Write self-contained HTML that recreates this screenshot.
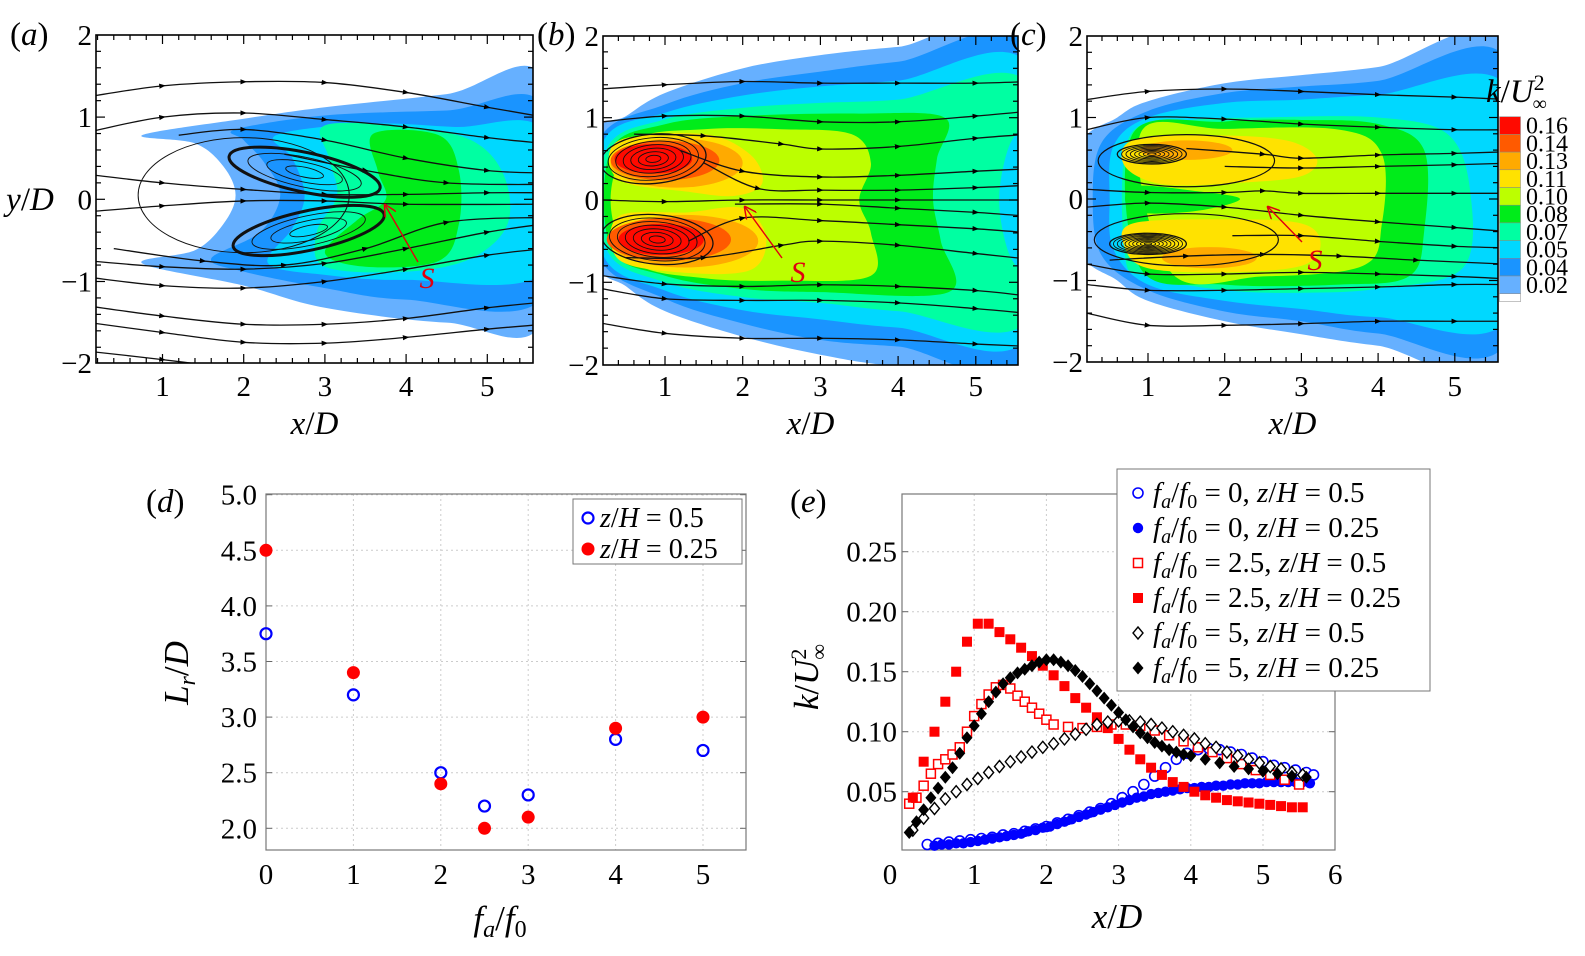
<!DOCTYPE html>
<html><head><meta charset="utf-8"><style>
html,body{margin:0;padding:0;background:#fff}
svg text{font-family:"Liberation Serif",serif}
</style></head><body>
<svg id="fig" xmlns="http://www.w3.org/2000/svg" width="1585" height="951" viewBox="0 0 1585 951" font-family="Liberation Serif, serif">
<defs>
<marker id="arr" viewBox="0 0 10 10" refX="5" refY="5" markerWidth="5" markerHeight="5" orient="auto"><path d="M0,1 L10,5 L0,9 z" fill="#000"/></marker>
<marker id="rarr" viewBox="0 0 10 10" refX="9" refY="5" markerWidth="9" markerHeight="9" orient="auto"><path d="M0,0 L10,5 L0,10" fill="none" stroke="#e00010" stroke-width="1.2"/></marker>
</defs>
</svg>
<script>
const NS='http://www.w3.org/2000/svg';
const svg=document.getElementById('fig');
function mk(tag,attrs,parent){const e=document.createElementNS(NS,tag);for(const k in attrs)e.setAttribute(k,attrs[k]);(parent||svg).appendChild(e);return e;}

// ===== panel (d) data =====
const dCategories=[0,1,2,2.5,3,4,5];
const dZ05=[3.75,3.2,2.5,2.2,2.3,2.8,2.7];
const dZ025=[4.5,3.4,2.4,2.0,2.1,2.9,3.0];
const dXTicks=[0,1,2,3,4,5];
const dYTicks=[2.0,2.5,3.0,3.5,4.0,4.5,5.0];

// ===== panel (e) data =====
const eF0Z05x=[0.35,0.5,0.65,0.8,0.95,1.1,1.25,1.4,1.55,1.7,1.85,2.0,2.15,2.3,2.45,2.6,2.75,2.9,3.05,3.2,3.35,3.5,3.65,3.8,3.95,4.1,4.25,4.4,4.55,4.7,4.85,5.0,5.15,5.3,5.45,5.6,5.7];
const eF0Z05y=[0.006,0.007,0.008,0.009,0.010,0.011,0.012,0.014,0.015,0.017,0.019,0.021,0.024,0.027,0.030,0.033,0.036,0.040,0.045,0.050,0.056,0.063,0.070,0.077,0.082,0.085,0.086,0.085,0.083,0.081,0.078,0.075,0.072,0.070,0.068,0.066,0.064];
const eF0Z025x=[0.45,0.55,0.65,0.75,0.85,0.95,1.05,1.15,1.25,1.35,1.45,1.55,1.65,1.75,1.85,1.95,2.05,2.15,2.25,2.35,2.45,2.55,2.65,2.75,2.85,2.95,3.05,3.15,3.25,3.35,3.45,3.55,3.65,3.75,3.85,3.95,4.05,4.15,4.25,4.35,4.45,4.55,4.65,4.75,4.85,4.95,5.05,5.15,5.25,5.35,5.45,5.55,5.65];
const eF0Z025y=[0.005,0.006,0.006,0.007,0.007,0.008,0.009,0.010,0.011,0.012,0.013,0.014,0.015,0.017,0.018,0.020,0.021,0.023,0.025,0.027,0.029,0.031,0.033,0.035,0.037,0.039,0.041,0.043,0.045,0.046,0.048,0.049,0.050,0.051,0.052,0.053,0.053,0.054,0.054,0.055,0.055,0.056,0.056,0.057,0.057,0.057,0.058,0.058,0.058,0.058,0.058,0.058,0.057];
const eF25Z05x=[0.1,0.2,0.3,0.4,0.5,0.6,0.7,0.8,0.9,1.0,1.1,1.2,1.3,1.4,1.5,1.6,1.7,1.8,1.9,2.0,2.1,2.3,2.5,2.7,2.9,3.1,3.3,3.5,3.7,3.9,4.1,4.3,4.5,4.7,4.9,5.1,5.3,5.5];
const eF25Z05y=[0.040,0.045,0.055,0.065,0.073,0.077,0.081,0.087,0.100,0.113,0.123,0.131,0.137,0.139,0.136,0.130,0.125,0.120,0.115,0.110,0.106,0.104,0.103,0.104,0.106,0.106,0.105,0.101,0.097,0.092,0.087,0.083,0.078,0.073,0.068,0.064,0.060,0.056];
const eF25Z025x=[0.15,0.3,0.45,0.6,0.75,0.9,1.05,1.2,1.35,1.5,1.65,1.8,1.95,2.1,2.25,2.4,2.55,2.7,2.85,3.0,3.15,3.3,3.45,3.6,3.75,3.9,4.05,4.2,4.35,4.5,4.65,4.8,4.95,5.1,5.25,5.4,5.55];
const eF25Z025y=[0.045,0.075,0.100,0.125,0.150,0.175,0.190,0.190,0.183,0.177,0.170,0.163,0.155,0.147,0.138,0.128,0.120,0.112,0.103,0.094,0.085,0.077,0.070,0.064,0.058,0.054,0.050,0.047,0.045,0.043,0.042,0.041,0.040,0.039,0.038,0.037,0.037];
const eF5Z05x=[0.15,0.3,0.45,0.6,0.75,0.9,1.05,1.2,1.35,1.5,1.65,1.8,1.95,2.1,2.25,2.4,2.55,2.7,2.85,3.0,3.15,3.3,3.45,3.6,3.75,3.9,4.05,4.2,4.35,4.5,4.65,4.8,4.95,5.1,5.25,5.4,5.55];
const eF5Z05y=[0.018,0.028,0.036,0.044,0.050,0.056,0.061,0.066,0.071,0.075,0.079,0.083,0.087,0.090,0.094,0.098,0.102,0.106,0.108,0.109,0.109,0.108,0.106,0.103,0.100,0.097,0.094,0.090,0.087,0.083,0.080,0.077,0.074,0.071,0.069,0.066,0.064];
const eF5Z025x=[0.1,0.2,0.3,0.4,0.5,0.6,0.7,0.8,0.9,1.0,1.1,1.2,1.3,1.4,1.5,1.6,1.7,1.8,1.9,2.0,2.1,2.2,2.3,2.4,2.5,2.6,2.7,2.8,2.9,3.0,3.1,3.2,3.3,3.4,3.5,3.6,3.7,3.8,3.9,4.0,4.2,4.4,4.6,4.8,5.0,5.2,5.4,5.6];
const eF5Z025y=[0.016,0.025,0.035,0.045,0.053,0.062,0.070,0.082,0.095,0.105,0.115,0.125,0.133,0.140,0.145,0.149,0.152,0.155,0.158,0.160,0.160,0.158,0.155,0.151,0.146,0.140,0.134,0.128,0.122,0.116,0.110,0.104,0.099,0.095,0.091,0.088,0.085,0.083,0.081,0.080,0.077,0.074,0.071,0.069,0.067,0.065,0.063,0.062];
const eXTicks=[0,1,2,3,4,5,6];
const eYTicks=[0.05,0.10,0.15,0.20,0.25];

// ===== contour colorbar levels =====
const cbLabels=['0.16','0.14','0.13','0.11','0.10','0.08','0.07','0.05','0.04','0.02'];
const C={lb:'#66b0ff',bl:'#1a94ff',cy:'#00d8ff',mi:'#00ffa2',gr:'#00ec1a',yg:'#bcff00',ye:'#ffe200',or:'#ffaa00',orr:'#ff5a00',re:'#ff0a00'};
const cbColors=[C.re,C.orr,C.or,C.ye,C.yg,C.gr,C.mi,C.cy,C.bl,C.lb,'#fff'];

// ---------- helpers ----------
function smoothClosed(pts){
  const n=pts.length;let d='M'+pts[0][0]+','+pts[0][1];
  for(let i=0;i<n;i++){const p0=pts[(i-1+n)%n],p1=pts[i],p2=pts[(i+1)%n],p3=pts[(i+2)%n];
    const c1=[p1[0]+(p2[0]-p0[0])/6,p1[1]+(p2[1]-p0[1])/6],c2=[p2[0]-(p3[0]-p1[0])/6,p2[1]-(p3[1]-p1[1])/6];
    d+=' C'+c1+' '+c2+' '+p2;}
  return d+'Z';}
function smoothOpen(pts){
  const n=pts.length;let d='M'+pts[0][0]+','+pts[0][1];
  for(let i=0;i<n-1;i++){const p0=pts[Math.max(i-1,0)],p1=pts[i],p2=pts[i+1],p3=pts[Math.min(i+2,n-1)];
    const c1=[p1[0]+(p2[0]-p0[0])/6,p1[1]+(p2[1]-p0[1])/6],c2=[p2[0]-(p3[0]-p1[0])/6,p2[1]-(p3[1]-p1[1])/6];
    d+=' C'+c1+' '+c2+' '+p2;}
  return d;}
function txt(x,y,s,attrs,parent){const t=mk('text',Object.assign({x:x,y:y},attrs||{}),parent);t.innerHTML=s;return t;}

// ---------- contour panels ----------
function contourPanel(cfg){
  const g=mk('g',{});
  
  
  const [bx0,by0,bx1,by1]=cfg.box;
  const X=v=>cfg.x0+v*cfg.sx, Y=v=>cfg.y0-v*cfg.sy;
  const cp=mk('clipPath',{id:'clip'+cfg.id},g);mk('rect',{x:bx0,y:by0,width:bx1-bx0,height:by1-by0},cp);
  const inner=mk('g',{'clip-path':'url(#clip'+cfg.id+')'},g);
  mk('rect',{x:bx0,y:by0,width:bx1-bx0,height:by1-by0,fill:'#fff'},inner);
  cfg.layers.forEach(L=>{
    if(L.ell){const e=mk('ellipse',{cx:X(L.ell[0]),cy:Y(L.ell[1]),rx:L.ell[2]*cfg.sx,ry:L.ell[3]*cfg.sy,fill:L.ell[4]},inner);
      }
    else{const p=mk('path',{d:smoothClosed(L.p.map(q=>[X(q[0]),Y(q[1])])),fill:L.c},inner);
      }
  });
  const sg=mk('g',{fill:'none',stroke:'#111','stroke-width':1.3},inner);
  
  cfg.lines.forEach(l=>{mk('path',{d:smoothOpen(l.map(q=>[X(q[0]),Y(q[1])]))},sg);
    mk('polyline',{points:l.map(q=>X(q[0])+','+Y(q[1])).join(' '),stroke:'none','marker-mid':'url(#arr)'},sg);});
  cfg.vort.forEach(v=>{for(let k=0;k<v[5];k++){const f=1-k/v[5];
    mk('ellipse',{cx:X(v[0]),cy:Y(v[1]),rx:v[2]*cfg.sx*f,ry:v[3]*cfg.sy*f,fill:'none',transform:'rotate('+v[4]+' '+X(v[0])+' '+Y(v[1])+')','stroke-width':k==0?(v[6]||1.2):0.9},sg);}});
  const fr=mk('rect',{x:bx0,y:by0,width:bx1-bx0,height:by1-by0,fill:'none',stroke:'#000','stroke-width':1.6},g);
  
  const tk=mk('g',{stroke:'#000','stroke-width':1.2},g);
  for(let v=0;v<=5.6;v+=0.2){const x=X(v);if(x<bx0+1||x>bx1-1)continue;const maj=Math.abs(v-Math.round(v))<1e-6;const L=maj?9:5;
    mk('line',{x1:x,y1:by1,x2:x,y2:by1-L},tk);mk('line',{x1:x,y1:by0,x2:x,y2:by0+L},tk);}
  for(let v=-2;v<=2.001;v+=0.2){const y=Y(v);if(y<by0+1||y>by1-1)continue;const maj=Math.abs(v-Math.round(v))<1e-6;const L=maj?9:5;
    mk('line',{x1:bx0,y1:y,x2:bx0+L,y2:y},tk);mk('line',{x1:bx1,y1:y,x2:bx1-L,y2:y},tk);}
  [1,2,3,4,5].forEach(v=>{const t=txt(X(v),396,String(v),{'font-size':29,'text-anchor':'middle'},g);
    });
  [2,1,0,-1,-2].forEach(v=>{let yy=Y(v);if(v==2)yy=by0;if(v==-2)yy=by1;
    const t=txt(bx0-4,yy+10,v<0?'−'+(-v):String(v),{'font-size':29,'text-anchor':'end'},g);
    });
  const xl=txt((bx0+bx1)/2,434,'<tspan font-style="italic">x</tspan>/<tspan font-style="italic">D</tspan>',{'font-size':33,'text-anchor':'middle'},g);
  
  const pl=txt(cfg.lab[0],cfg.lab[1],'(<tspan font-style="italic">'+cfg.id+'</tspan>)',{'font-size':33},g);
  
  const sa=mk('line',{x1:cfg.S[2],y1:cfg.S[3],x2:cfg.S[4],y2:cfg.S[5],stroke:'#e00010','stroke-width':1.4,'marker-end':'url(#rarr)'},g);
  
  const st=txt(cfg.S[0],cfg.S[1],'S',{'font-size':30,'font-style':'italic',fill:'#e00010','text-anchor':'middle'},g);
  
}

contourPanel({id:'a',box:[96,35,533,363],x0:81.3,sx:81.2,y0:199.3,sy:82.2,lab:[10,45],S:[427,288,418,262,385,205],
 layers:[
  {c:C.lb,p:[[0.75,0.78],[2,0.98],[3,1.12],[4.5,1.28],[5.7,1.45],[5.7,-1.45],[4.5,-1.5],[3,-1.32],[2,-1.05],[0.75,-0.78],[1.4,-0.62],[1.75,-0.3],[1.9,0.05],[1.75,0.4],[1.4,0.68]]},
  {c:C.bl,p:[[1.9,0.85],[3,1.02],[4.5,1.08],[5.7,1.12],[5.7,-1.18],[4,-1.22],[3,-1.08],[2,-0.88],[1.6,-0.72],[2.2,-0.4],[2.45,0.05],[2.25,0.45],[2.0,0.72]]},
  {c:C.cy,p:[[2.4,0.78],[3.5,0.92],[4.6,0.88],[5.7,0.82],[5.7,-0.88],[4,-0.98],[3,-0.92],[2.3,-0.78],[2.6,-0.35],[2.75,0.05],[2.6,0.5]]},
  {c:C.mi,p:[[3.0,0.9],[4,0.88],[4.8,0.72],[5.2,0.3],[5.25,-0.3],[4.8,-0.72],[4,-0.88],[3,-0.82],[2.9,-0.4],[3.15,0.05],[3.05,0.5]]},
  {c:C.gr,p:[[3.6,0.8],[4.4,0.78],[4.65,0.35],[4.65,-0.3],[4.4,-0.75],[3.5,-0.82],[3.0,-0.65],[3.4,-0.25],[3.75,0.0],[3.65,0.35]]}
 ],
 lines:[[[0.1,1.25],[1,1.38],[2,1.43],[3,1.42],[4,1.3],[5,1.12],[5.7,1.0]],
  [[0.1,0.82],[1,1.0],[2,1.05],[3,0.97],[4,0.88],[5,0.75],[5.7,0.68]],
  [[1.2,0.78],[2,0.85],[3,0.72],[4,0.5],[5,0.35],[5.7,0.32]],
  [[2.5,0.55],[3.5,0.35],[4.5,0.2],[5.7,0.18]],
  [[0.1,0.3],[1,0.2],[2,0.12],[3,0.06],[4,0.06],[5,0.08],[5.7,0.08]],
  [[0.1,-0.15],[1,-0.08],[2,-0.02],[3,-0.02],[4,-0.06],[5.7,-0.06]],
  [[0.4,-0.6],[1.5,-0.75],[2.5,-0.8],[3.5,-0.6],[4.5,-0.28],[5.7,-0.22]],
  [[0.1,-0.75],[1,-0.82],[2,-0.85],[3,-0.78],[4,-0.6],[5,-0.4],[5.7,-0.3]],
  [[0.1,-0.95],[1,-1.05],[2,-1.08],[3,-1.0],[4,-0.85],[5,-0.68],[5.7,-0.6]],
  [[0.1,-1.3],[1,-1.42],[2,-1.52],[3,-1.52],[4,-1.45],[5,-1.32],[5.7,-1.25]],
  [[0.1,-1.5],[1,-1.62],[2,-1.74],[3,-1.75],[4,-1.68],[5,-1.58],[5.7,-1.52]],
  [[0.1,-1.85],[1,-1.95],[1.8,-2.05]]],
 vort:[[2.75,0.33,0.95,0.24,12,4,3],[2.8,-0.38,0.95,0.24,-12,4,3],[2.0,0.05,1.3,0.7,0,1,1.0]]
});
contourPanel({id:'b',box:[603,36,1018,365],x0:587.3,sx:77.7,y0:200,sy:82.3,lab:[537,45],S:[798,282,782,258,745,207],
 layers:[
  {c:C.lb,p:[[0.1,0.75],[0.5,1.02],[1,1.3],[2,1.6],[3,1.76],[4,1.86],[5.7,1.98],[5.7,-2.1],[4,-2.02],[3,-1.88],[2,-1.66],[1,-1.35],[0.5,-1.05],[0.1,-0.7]]},
  {c:C.bl,p:[[0.15,0.72],[1,1.16],[2,1.42],[3,1.56],[4,1.68],[5.7,1.82],[5.7,-1.88],[4,-1.78],[3,-1.7],[2,-1.5],[1,-1.2],[0.15,-0.68]]},
  {c:C.cy,p:[[0.2,0.7],[1,1.06],[2,1.27],[3,1.38],[4,1.45],[5.7,1.6],[5.7,-1.62],[4,-1.55],[3,-1.45],[2,-1.34],[1,-1.1],[0.2,-0.66]]},
  {c:C.mi,p:[[0.25,0.62],[1,0.98],[2,1.12],[3,1.18],[4,1.22],[5.7,1.38],[5.7,-1.42],[4,-1.35],[3,-1.25],[2,-1.18],[1,-1.0],[0.25,-0.6]]},
  {c:C.cy,p:[[5.45,0.7],[5.7,0.75],[5.7,-0.75],[5.45,-0.7],[5.3,0]]},
  {c:C.gr,p:[[0.3,0.6],[1,0.92],[2,1.02],[3.5,1.05],[4.6,1.0],[4.5,0.5],[4.45,0],[4.55,-0.5],[4.65,-1.12],[3,-1.12],[2,-1.08],[1,-0.92],[0.3,-0.58]]},
  {c:C.yg,p:[[0.6,0.72],[1.5,0.86],[2.5,0.86],[3.4,0.8],[3.65,0.45],[3.5,0.0],[3.65,-0.4],[3.65,-0.92],[2.5,-0.98],[1.5,-0.95],[0.6,-0.75],[0.3,0]]},
  {c:C.ye,p:[[0.4,0.72],[1.5,0.8],[2.1,0.55],[2.25,0.2],[1.9,0.05],[1.3,0.1],[0.4,0.25]]},
  {c:C.ye,p:[[0.4,-0.2],[1.3,-0.15],[2.0,-0.1],[2.3,-0.45],[2.1,-0.85],[1.2,-0.88],[0.4,-0.72]]},
  {ell:[1.15,0.45,0.85,0.3,C.or]},{ell:[1.25,-0.5,0.95,0.32,C.or]},
  {ell:[1.0,0.48,0.7,0.24,C.orr]},{ell:[1.05,-0.48,0.8,0.26,C.orr]},
  {ell:[0.85,0.5,0.5,0.18,C.re]},{ell:[0.95,-0.48,0.55,0.19,C.re]}
 ],
 lines:[[[0.2,1.35],[1,1.4],[2,1.44],[3,1.42],[4,1.42],[5,1.42],[5.7,1.44]],
  [[0.2,0.95],[1,1.02],[2,1.02],[3,0.95],[4,0.95],[5,1.02],[5.7,1.08]],
  [[0.6,0.8],[1.5,0.78],[2.5,0.68],[3,0.62],[4,0.65],[5,0.75],[5.7,0.8]],
  [[1.2,0.6],[2,0.35],[3,0.28],[4,0.3],[5,0.35],[5.7,0.38]],
  [[1.5,0.45],[2.2,0.14],[3,0.12],[4,0.12],[5,0.15],[5.7,0.18]],
  [[0.2,0.0],[1,-0.02],[2,0.0],[3,0.0],[4,0.0],[5.7,0.0]],
  [[1.9,-0.05],[3,-0.05],[4,-0.1],[5,-0.15],[5.7,-0.2]],
  [[1.3,-0.5],[2,-0.22],[3,-0.25],[4,-0.3],[5,-0.35],[5.7,-0.4]],
  [[0.5,-0.7],[1.5,-0.7],[2.5,-0.55],[3,-0.5],[4,-0.55],[5,-0.65],[5.7,-0.72]],
  [[0.2,-0.92],[1,-1.02],[2,-1.05],[3,-1.03],[4,-1.05],[5,-1.1],[5.7,-1.17]],
  [[0.2,-1.08],[1,-1.2],[2,-1.22],[3,-1.22],[4,-1.25],[5,-1.32],[5.7,-1.38]],
  [[0.2,-1.5],[1,-1.62],[2,-1.68],[3,-1.68],[4,-1.7],[5,-1.75],[5.7,-1.78]]],
 vort:[[0.85,0.5,0.68,0.3,-5,7,1.3],[0.9,-0.48,0.72,0.3,5,7,1.3]]
});
contourPanel({id:'c',box:[1087,36,1498,362],x0:1071.3,sx:76.7,y0:199,sy:81.5,lab:[1010,45],S:[1315,270,1302,242,1268,207],
 layers:[
  {c:C.lb,p:[[0.1,0.62],[0.6,1.0],[1,1.2],[2,1.42],[3,1.52],[4,1.62],[5.7,1.86],[5.7,-1.95],[4,-1.8],[3,-1.66],[2,-1.5],[1,-1.25],[0.6,-1.0],[0.1,-0.6]]},
  {c:C.bl,p:[[0.4,0.7],[1,1.08],[2,1.3],[3,1.38],[4,1.45],[5.7,1.68],[5.7,-1.72],[4,-1.65],[3,-1.5],[2,-1.38],[1,-1.12],[0.4,-0.7],[0.28,0]]},
  {c:C.cy,p:[[0.55,0.65],[1,1.0],[2,1.18],[3,1.22],[4,1.28],[5.7,1.35],[5.7,-1.45],[4,-1.45],[3,-1.35],[2,-1.25],[1,-1.05],[0.55,-0.62],[0.5,0]]},
  {c:C.mi,p:[[0.75,0.75],[1.5,0.96],[2.5,1.0],[4,1.0],[4.9,0.8],[5.2,0.1],[5.1,-0.85],[4,-1.1],[3,-1.15],[2,-1.12],[1,-0.95],[0.7,-0.7]]},
  {c:C.gr,p:[[0.8,0.8],[2,0.95],[3,0.97],[4,0.92],[4.6,0.6],[4.6,-0.4],[4.4,-0.95],[3.5,-1.05],[2,-1.05],[0.9,-0.85]]},
  {c:C.yg,p:[[0.9,0.8],[2,0.86],[3.5,0.85],[4.05,0.55],[4.05,-0.3],[3.8,-0.82],[2.5,-0.95],[1.3,-0.9]]},
  {c:C.gr,p:[[0.8,0.15],[1.6,0.1],[2.2,0.0],[1.6,-0.15],[0.8,-0.15]]},
  {c:C.ye,p:[[0.8,0.72],[1.8,0.78],[2.8,0.72],[3.2,0.5],[3.0,0.28],[2.2,0.2],[1.2,0.18],[0.7,0.4]]},
  {c:C.ye,p:[[0.8,-0.3],[2,-0.25],[3.0,-0.3],[3.25,-0.55],[3.0,-0.82],[2,-0.9],[1.0,-0.85],[0.7,-0.6]]},
  {ell:[1.5,0.6,0.6,0.12,C.or]},{ell:[1.8,-0.72,0.62,0.13,C.or]}
 ],
 lines:[[[0.2,1.22],[1,1.32],[2,1.35],[3,1.32],[4,1.28],[5,1.25],[5.7,1.22]],
  [[0.2,0.85],[1,1.0],[2,0.98],[3,0.92],[4,0.88],[5,0.85],[5.7,0.85]],
  [[1.5,0.62],[2.5,0.55],[3,0.5],[4,0.54],[5,0.56],[5.7,0.58]],
  [[2.0,0.4],[3,0.38],[4,0.4],[5,0.42],[5.7,0.44]],
  [[0.2,0.12],[1,0.08],[2,0.08],[2.5,0.1],[3,0.07],[4,0.07],[5,0.07],[5.7,0.07]],
  [[0.2,-0.1],[1,-0.05],[2,-0.1],[3,-0.2],[4,-0.28],[5,-0.35],[5.7,-0.4]],
  [[2.1,-0.45],[3,-0.45],[4,-0.52],[5,-0.58],[5.7,-0.6]],
  [[0.5,-0.75],[1.5,-0.7],[2.5,-0.68],[3.5,-0.7],[4.5,-0.75],[5.7,-0.8]],
  [[0.2,-0.8],[1,-0.92],[2,-0.92],[3,-0.9],[4,-0.92],[5,-0.95],[5.7,-0.98]],
  [[0.2,-1.05],[1,-1.12],[2,-1.12],[3,-1.1],[4,-1.08],[5,-1.05],[5.7,-1.05]],
  [[0.2,-1.4],[1,-1.55],[2,-1.55],[3,-1.53],[4,-1.5],[5,-1.5],[5.7,-1.5]]],
 vort:[[1.05,0.55,0.45,0.12,0,8,1.3],[1.0,-0.55,0.5,0.13,0,10,1.3],[1.5,0.47,1.15,0.32,0,1,1.2],[1.5,-0.5,1.2,0.32,0,1,1.2]]
});
{const t=txt(30,210,'<tspan font-style="italic">y</tspan>/<tspan font-style="italic">D</tspan>',{'font-size':33,'text-anchor':'middle'});
 }

// colorbar
{const g=mk('g',{});
 const top=116.7,h=17.7;
 cbColors.forEach((c,i)=>{if(i>=10)return;const r=mk('rect',{x:1499.5,y:top+i*h,width:21,height:h,fill:c,stroke:'#888','stroke-width':0.5},g);
   });
 mk('rect',{x:1499.5,y:top+10*h,width:21,height:8,fill:'#fff',stroke:'#888','stroke-width':0.5},g);
 cbLabels.forEach((s,i)=>{const t=txt(1526,top+i*h+17,s,{'font-size':24},g);
   });
 const tt=txt(1486,102,'<tspan font-style="italic">k</tspan>/<tspan font-style="italic">U</tspan><tspan font-size="22" dy="-12">2</tspan><tspan font-size="20" dx="-12" dy="20">∞</tspan>',{'font-size':33},g);
 }

// ---------- panel (d) ----------
{const g=mk('g',{});
 const bx0=266,bx1=746,by0=494,by1=850;
 const X=v=>266+v*87.4, Y=v=>828.3-(v-2)*111.2;
 dXTicks.forEach(v=>{if(v>0)mk('line',{x1:X(v),y1:by0,x2:X(v),y2:by1,stroke:'#ccc','stroke-dasharray':'2,3'},g);
   const t=txt(X(v),884,String(v),{'font-size':29,'text-anchor':'middle'},g);});
 dYTicks.forEach(v=>{mk('line',{x1:bx0,y1:Y(v),x2:bx1,y2:Y(v),stroke:'#ccc','stroke-dasharray':'2,3'},g);
   mk('line',{x1:bx0,y1:Y(v),x2:bx0+6,y2:Y(v),stroke:'#666'},g);mk('line',{x1:bx1,y1:Y(v),x2:bx1-6,y2:Y(v),stroke:'#666'},g);
   const t=txt(bx0-9,Y(v)+10,v.toFixed(1),{'font-size':29,'text-anchor':'end'},g);});
 const fr=mk('rect',{x:bx0,y:by0,width:bx1-bx0,height:by1-by0,fill:'none',stroke:'#777','stroke-width':1.2},g);
 
 dCategories.forEach((c,i)=>{
   const a=mk('circle',{cx:X(c),cy:Y(dZ05[i]),r:5.5,fill:'none',stroke:'#0000ff','stroke-width':2.2},g);
   
   const b=mk('circle',{cx:X(c),cy:Y(dZ025[i]),r:6.5,fill:'#ff0000'},g);
   });
 const lg=mk('g',{},g);
 mk('rect',{x:573,y:499,width:169,height:65,fill:'#fff',stroke:'#777'},lg);
 mk('circle',{cx:588,cy:518,r:5.5,fill:'none',stroke:'#0000ff','stroke-width':2.2},lg);
 mk('circle',{cx:588,cy:549,r:6.5,fill:'#ff0000'},lg);
 const l1=txt(600,527,'<tspan font-style="italic">z</tspan>/<tspan font-style="italic">H</tspan> = 0.5',{'font-size':28},lg);
 
 const l2=txt(600,558,'<tspan font-style="italic">z</tspan>/<tspan font-style="italic">H</tspan> = 0.25',{'font-size':28},lg);
 
 const pl=txt(146,512,'(<tspan font-style="italic">d</tspan>)',{'font-size':33},g);
 const yl=txt(0,0,'<tspan font-style="italic">L</tspan><tspan font-style="italic" font-size="24" dy="7">r</tspan><tspan dy="-7">/</tspan><tspan font-style="italic">D</tspan>',{'font-size':35,'text-anchor':'middle',transform:'translate(188,673) rotate(-90)'},g);
 
 const xl=txt(500,930,'<tspan font-style="italic">f</tspan><tspan font-style="italic" font-size="24" dy="7">a</tspan><tspan dy="-7">/</tspan><tspan font-style="italic">f</tspan><tspan font-size="24" dy="7">0</tspan>',{'font-size':35,'text-anchor':'middle'},g);
 }

// ---------- panel (e) ----------
{const g=mk('g',{});
 const bx0=902,bx1=1335,by0=494,by1=850;
 const X=v=>902+v*72.2, Y=v=>851.7-v*1200;
 eXTicks.forEach(v=>{if(v>0&&v<6)mk('line',{x1:X(v),y1:by0,x2:X(v),y2:by1,stroke:'#ccc','stroke-dasharray':'2,3'},g);
   const t=txt(X(v)-(v==0?12:0),884,String(v),{'font-size':29,'text-anchor':'middle'},g);});
 eYTicks.forEach(v=>{mk('line',{x1:bx0,y1:Y(v),x2:bx1,y2:Y(v),stroke:'#ccc','stroke-dasharray':'2,3'},g);
   mk('line',{x1:bx0,y1:Y(v),x2:bx0+6,y2:Y(v),stroke:'#666'},g);mk('line',{x1:bx1,y1:Y(v),x2:bx1-6,y2:Y(v),stroke:'#666'},g);
   const t=txt(bx0-5,Y(v)+10,v.toFixed(2),{'font-size':29,'text-anchor':'end'},g);});
 const fr=mk('rect',{x:bx0,y:by0,width:bx1-bx0,height:by1-by0,fill:'none',stroke:'#777','stroke-width':1.2},g);
 
 function marker(type,cx,cy,parent){
   let e;
   if(type=='oc')e=mk('circle',{cx:cx,cy:cy,r:5,fill:'#fff',stroke:'#0000ff','stroke-width':1.6},parent);
   else if(type=='fc')e=mk('circle',{cx:cx,cy:cy,r:5.2,fill:'#0000ff'},parent);
   else if(type=='os')e=mk('rect',{x:cx-4.5,y:cy-4.5,width:9,height:9,fill:'#fff',stroke:'#ff0000','stroke-width':1.5},parent);
   else if(type=='fs')e=mk('rect',{x:cx-5,y:cy-5,width:10,height:10,fill:'#ff0000'},parent);
   else if(type=='od')e=mk('path',{d:'M'+cx+','+(cy-6)+' L'+(cx+5)+','+cy+' L'+cx+','+(cy+6)+' L'+(cx-5)+','+cy+'Z',fill:'#fff',stroke:'#000','stroke-width':1.4},parent);
   else e=mk('path',{d:'M'+cx+','+(cy-6.5)+' L'+(cx+5.5)+','+cy+' L'+cx+','+(cy+6.5)+' L'+(cx-5.5)+','+cy+'Z',fill:'#000'},parent);
   return e;}
 const series=[['oc',eF0Z05x,eF0Z05y,'series-fa0-z05'],['fc',eF0Z025x,eF0Z025y,'series-fa0-z025'],
   ['os',eF25Z05x,eF25Z05y,'series-fa25-z05'],['fs',eF25Z025x,eF25Z025y,'series-fa25-z025'],
   ['od',eF5Z05x,eF5Z05y,'series-fa5-z05'],['fd',eF5Z025x,eF5Z025y,'series-fa5-z025']];
 series.forEach(s=>{const sg=mk('g',{},g);
   s[1].forEach((x,i)=>{const m=marker(s[0],X(x),Y(s[2][i]),sg);});});
 const lg=mk('g',{},g);
 mk('rect',{x:1117,y:469,width:313,height:222,fill:'#fff',stroke:'#777'},lg);
 const labs=[['oc','0','0.5'],['fc','0','0.25'],['os','2.5','0.5'],['fs','2.5','0.25'],['od','5','0.5'],['fd','5','0.25']];
 const rows=[493,528,563,598,633,668];
 labs.forEach((l,i)=>{marker(l[0],1138,rows[i],lg);
   const t=txt(1153,rows[i]+9,'<tspan font-style="italic">f</tspan><tspan font-style="italic" font-size="20" dy="6">a</tspan><tspan dy="-6">/</tspan><tspan font-style="italic">f</tspan><tspan font-size="20" dy="6">0</tspan><tspan dy="-6"> = '+l[1]+', </tspan><tspan font-style="italic">z</tspan>/<tspan font-style="italic">H</tspan> = '+l[2],{'font-size':29},lg);
   });
 const pl=txt(790,512,'(<tspan font-style="italic">e</tspan>)',{'font-size':33},g);
 const yl=txt(0,0,'<tspan font-style="italic">k</tspan>/<tspan font-style="italic">U</tspan><tspan font-size="22" dy="-12">2</tspan><tspan font-size="22" dx="-11" dy="20">∞</tspan>',{'font-size':35,'text-anchor':'middle',transform:'translate(818,677) rotate(-90)'},g);
 
 const xl=txt(1117,928,'<tspan font-style="italic">x</tspan>/<tspan font-style="italic">D</tspan>',{'font-size':35,'text-anchor':'middle'},g);
 }
</script>
</body></html>
